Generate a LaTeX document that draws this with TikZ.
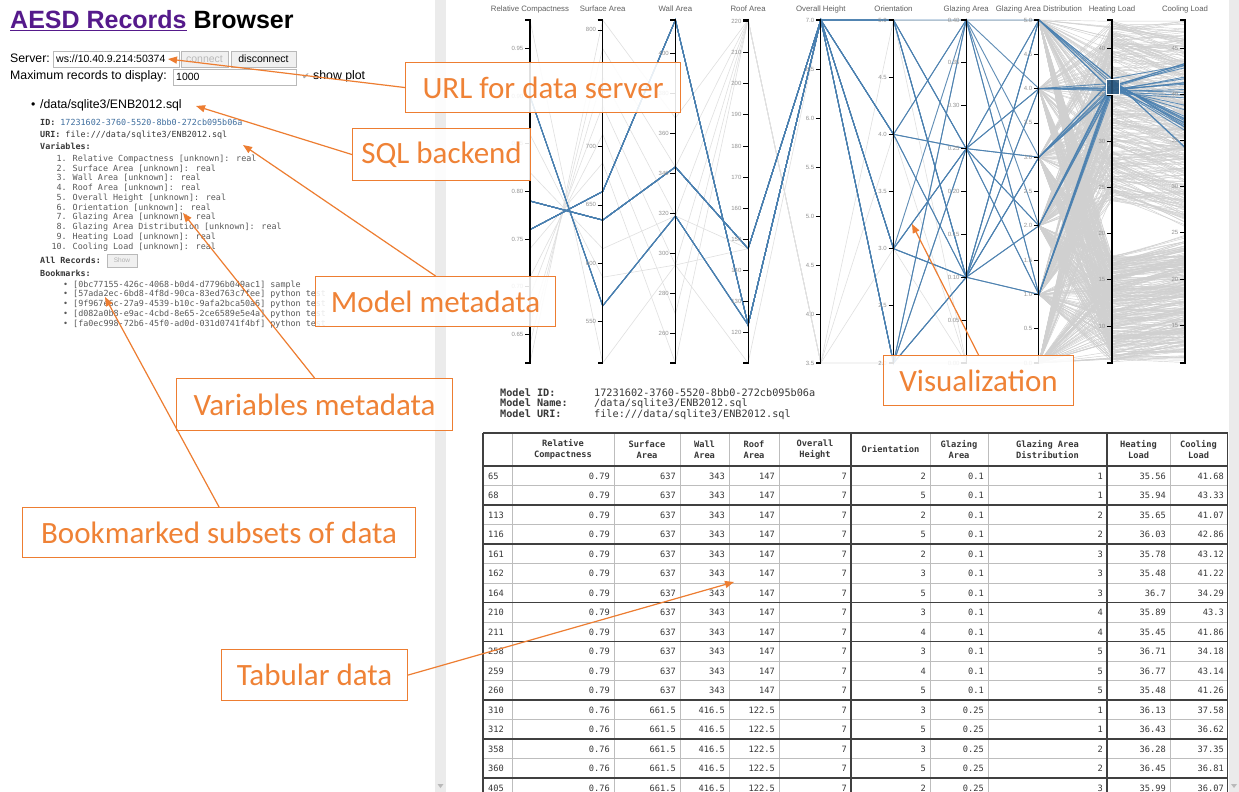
\documentclass[tikz,border=0pt]{standalone}
\usepackage{fontspec}
\setmainfont{Liberation Sans}
\newfontfamily\callfont{Carlito}
\newfontfamily\codefont{DejaVu Sans Mono}
\newfontfamily\symfont{DejaVu Sans}
\usetikzlibrary{arrows.meta}
\newcommand{\fsz}[1]{\fontsize{#1}{#1}\selectfont}
\definecolor{orangeline}{HTML}{ED7D31}
\definecolor{orangetext}{HTML}{EF8236}
\definecolor{linkpurple}{HTML}{551A8B}
\definecolor{selblue}{HTML}{4A80B0}
\definecolor{densegrey}{HTML}{D0D0D0}
\definecolor{faintgrey}{HTML}{E0E0E0}
\definecolor{barGrey}{HTML}{EBEBEB}
\definecolor{rulegrey}{HTML}{BDBDBD}
\definecolor{inkgrey}{HTML}{383838}
\definecolor{idblue}{HTML}{3F6E9E}
\definecolor{brushfill}{HTML}{2C587E}

% x positions of the ten parallel axes
\def\xA{530}\def\xB{602.7}\def\xC{675.4}\def\xD{748.1}\def\xE{820.8}
\def\xF{893.5}\def\xG{966.2}\def\xH{1038.9}\def\xI{1112}\def\xJ{1185}

% one axis of the parallel-coordinates plot: id, x, scale function, ticks
\newcommand{\paxis}[4]{%
  \draw[axisline] ({#2-5},20) -- (#2,20) -- (#2,363) -- ({#2-5},363);
  \foreach \tkv/\tkl [count=\tkn] in {#4}{%
    \draw[tickline] ({#2-5},{#3(\tkv)}) -- (#2,{#3(\tkv)});
    \node[ticklab] (tk#1\tkn) at ({#2-6.5},{#3(\tkv)}) {\tkl};
  }%
}

\begin{document}
\begin{tikzpicture}[x=1pt,y=-1pt,
  declare function={
    yRC(\v)=20+(0.98-\v)*952.78;
    ySA(\v)=20+(808.5-\v)*1.16667;
    yWA(\v)=20+(416.5-\v)*2;
    yRA(\v)=20+(220.5-\v)*3.1111;
    yOH(\v)=20+(7-\v)*98;
    yOR(\v)=20+(5-\v)*114.333;
    yGA(\v)=20+(0.4-\v)*857.5;
    yGD(\v)=20+(5-\v)*68.6;
    yHL(\v)=20+(43.1-\v)*9.248;
    yCL(\v)=20+(48.03-\v)*9.238;
  },
  axisline/.style={draw=black, line width=1.1pt},
  tickline/.style={draw=black, line width=0.8pt},
  ticklab/.style={anchor=east, inner sep=0pt, font=\fsz{6}, text=gray!85},
  ptitle/.style={inner sep=0pt, font=\fsz{7.8}, text=gray!75!black},
  faintline/.style={draw=faintgrey, line width=0.6pt},
  denseline/.style={draw=densegrey, line width=0.45pt},
  selline/.style={draw=selblue, line width=0.9pt, draw opacity=0.85},
  ui/.style={anchor=base west, inner sep=0pt, font=\fsz{12.3}},
  codetxt/.style={anchor=base west, inner sep=0pt, font=\codefont\fsz{8.4}, text=inkgrey},
  codebig/.style={anchor=base west, inner sep=0pt, font=\codefont\fsz{10.2}, text=inkgrey},
  fieldbox/.style={draw=gray!55, fill=white, line width=0.6pt},
  btnbox/.style={draw=gray!55, fill=gray!12, line width=0.6pt},
  headcell/.style={align=center, inner sep=0pt, font=\codefont\bfseries\fontsize{8.7}{11}\selectfont, text=inkgrey},
  cellnum/.style={anchor=east, inner sep=0pt, font=\codefont\fsz{8.7}, text=inkgrey},
  thinrule/.style={draw=rulegrey, line width=0.6pt},
  darkrule/.style={draw=black!75, line width=1.2pt},
  calloutbox/.style={draw=orangeline, line width=1.1pt, fill=white, fill opacity=0.88,
    text opacity=1, text=orangetext, font=\callfont\fsz{31}, inner sep=0pt, anchor=north west},
  callarrow/.style={draw=orangeline, line width=1.2pt, -{Triangle[length=9pt,width=7pt]}}
]
\useasboundingbox (0,0) rectangle (1239,792);
\fill[white] (0,0) rectangle (1239,792);

% ---------------- parallel coordinates: background records
\foreach \vA/\vB/\vC/\vD/\vE in {0.98/514.5/294/110.25/7, 0.90/563.5/318.5/122.5/7,
  0.86/588/294/147/7, 0.82/612.5/318.5/147/7, 0.79/637/343/147/7, 0.76/661.5/416.5/122.5/7,
  0.74/686/245/220.5/3.5, 0.71/710.5/269.5/220.5/3.5, 0.69/735/294/220.5/3.5,
  0.66/759.5/318.5/220.5/3.5, 0.64/784/343/220.5/3.5, 0.62/808.5/367.5/220.5/3.5}{
  \draw[faintline] (\xA,{yRC(\vA)}) -- (\xB,{ySA(\vB)}) -- (\xC,{yWA(\vC)})
    -- (\xD,{yRA(\vD)}) -- (\xE,{yOH(\vE)});
}
\foreach \hh in {7,3.5}{\foreach \oo in {2,3,4,5}{
  \draw[faintline] (\xE,{yOH(\hh)}) -- (\xF,{yOR(\oo)});}}
\foreach \oo in {2,3,4,5}{\foreach \gg in {0,0.1,0.25,0.4}{
  \draw[faintline] (\xF,{yOR(\oo)}) -- (\xG,{yGA(\gg)});}}
\draw[faintline] (\xG,{yGA(0)}) -- (\xH,{yGD(0)});
\foreach \gg in {0.1,0.25,0.4}{\foreach \dd in {1,...,5}{
  \draw[faintline] (\xG,{yGA(\gg)}) -- (\xH,{yGD(\dd)});}}

% loads: dense bundle of records
\pgfmathsetseed{4217}
\foreach \k in {1,...,650}{
  \pgfmathsetmacro\rA{rnd}
  \pgfmathsetmacro\pgd{random(0,5)}
  \pgfmathsetmacro\phl{\rA<0.5 ? 6.1+rnd*11.5 : 23.5+rnd*19.5}
  \pgfmathsetmacro\pcl{\rA<0.5 ? \phl+4.5+rnd*3 : min(47.9,\phl+0.5+rnd*6)}
  \draw[denseline] (\xH,{yGD(\pgd)}) -- (\xI,{yHL(\phl)}) -- (\xJ,{yCL(\pcl)});
}

% selected records
\foreach \vA/\vB/\vC/\vD/\vE/\vF/\vG/\vH/\vI/\vJ in {
  0.79/637/343/147/7/2/0.1/1/35.56/41.68, 0.79/637/343/147/7/5/0.1/1/35.94/43.33,
  0.79/637/343/147/7/2/0.1/2/35.65/41.07, 0.79/637/343/147/7/5/0.1/2/36.03/42.86,
  0.79/637/343/147/7/2/0.1/3/35.78/43.12, 0.79/637/343/147/7/3/0.1/3/35.48/41.22,
  0.79/637/343/147/7/5/0.1/3/36.7/34.29, 0.79/637/343/147/7/3/0.1/4/35.89/43.3,
  0.79/637/343/147/7/4/0.1/4/35.45/41.86, 0.79/637/343/147/7/3/0.1/5/36.71/34.18,
  0.79/637/343/147/7/4/0.1/5/36.77/43.14, 0.79/637/343/147/7/5/0.1/5/35.48/41.26,
  0.76/661.5/416.5/122.5/7/3/0.25/1/36.13/37.58, 0.76/661.5/416.5/122.5/7/5/0.25/1/36.43/36.62,
  0.76/661.5/416.5/122.5/7/3/0.25/2/36.28/37.35, 0.76/661.5/416.5/122.5/7/5/0.25/2/36.45/36.81,
  0.76/661.5/416.5/122.5/7/2/0.25/3/35.99/36.07, 0.76/661.5/416.5/122.5/7/4/0.25/3/36.59/36.44,
  0.76/661.5/416.5/122.5/7/3/0.25/4/36.24/37.26, 0.76/661.5/416.5/122.5/7/5/0.25/4/35.71/36.93,
  0.76/661.5/416.5/122.5/7/2/0.25/5/36.36/37.11, 0.76/661.5/416.5/122.5/7/4/0.25/5/36.06/36.39,
  0.90/563.5/318.5/122.5/7/2/0.4/1/35.2/39.6, 0.90/563.5/318.5/122.5/7/4/0.4/2/35.5/40.2,
  0.90/563.5/318.5/122.5/7/3/0.4/3/35.3/39.9, 0.90/563.5/318.5/122.5/7/5/0.4/4/35.6/38.8,
  0.90/563.5/318.5/122.5/7/2/0.4/5/35.4/40.5, 0.90/563.5/318.5/122.5/7/4/0.4/1/35.7/38.3}{
  \draw[selline] (\xA,{yRC(\vA)}) -- (\xB,{ySA(\vB)}) -- (\xC,{yWA(\vC)}) -- (\xD,{yRA(\vD)})
    -- (\xE,{yOH(\vE)}) -- (\xF,{yOR(\vF)}) -- (\xG,{yGA(\vG)}) -- (\xH,{yGD(\vH)})
    -- (\xI,{yHL(\vI)}) -- (\xJ,{yCL(\vJ)});
}

% axes
\paxis{rc}{\xA}{yRC}{0.95/0.95,0.90/0.90,0.85/0.85,0.80/0.80,0.75/0.75,0.70/0.70,0.65/0.65}
\paxis{sa}{\xB}{ySA}{800/800,750/750,700/700,650/650,600/600,550/550}
\paxis{wa}{\xC}{yWA}{400/400,380/380,360/360,340/340,320/320,300/300,280/280,260/260}
\paxis{ra}{\xD}{yRA}{220/220,210/210,200/200,190/190,180/180,170/170,160/160,150/150,140/140,130/130,120/120}
\paxis{oh}{\xE}{yOH}{7/7.0,6.5/6.5,6/6.0,5.5/5.5,5/5.0,4.5/4.5,4/4.0,3.5/3.5}
\paxis{or}{\xF}{yOR}{5/5.0,4.5/4.5,4/4.0,3.5/3.5,3/3.0,2.5/2.5,2/2.0}
\paxis{ga}{\xG}{yGA}{0.4/0.40,0.35/0.35,0.3/0.30,0.25/0.25,0.2/0.20,0.15/0.15,0.1/0.10,0.05/0.05,0/0.00}
\paxis{gd}{\xH}{yGD}{5/5.0,4.5/4.5,4/4.0,3.5/3.5,3/3.0,2.5/2.5,2/2.0,1.5/1.5,1/1.0,0.5/0.5,0/0.0}
\paxis{hl}{\xI}{yHL}{40/40,35/35,30/30,25/25,20/20,15/15,10/10}
\paxis{cl}{\xJ}{yCL}{45/45,40/40,35/35,30/30,25/25,20/20,15/15}

\node[ptitle] (tRC) at (\xA,9) {Relative Compactness};
\node[ptitle] (tSA) at (\xB,9) {Surface Area};
\node[ptitle] (tWA) at (\xC,9) {Wall Area};
\node[ptitle] (tRA) at (\xD,9) {Roof Area};
\node[ptitle] (tOH) at (\xE,9) {Overall Height};
\node[ptitle] (tOR) at (\xF,9) {Orientation};
\node[ptitle] (tGA) at (\xG,9) {Glazing Area};
\node[ptitle] (tGD) at (\xH,9) {Glazing Area Distribution};
\node[ptitle] (tHL) at (\xI,9) {Heating Load};
\node[ptitle] (tCL) at (\xJ,9) {Cooling Load};

% brush on the heating load axis
\filldraw[fill=brushfill, fill opacity=0.85, draw=white, line width=0.6pt] (1106,79) rectangle (1119,94);

% ---------------- left panel
\node[anchor=base west, inner sep=0pt, font=\bfseries\fsz{25}] (title) at (10,29)
  {{\color{linkpurple}\underline{AESD Records}} Browser};

\node[ui] (srvlab) at (10,63) {Server:};
\draw[fieldbox] (53,51) rectangle (179,67);
\node[ui, font=\fsz{10.5}] (srvval) at (56,63) {ws://10.40.9.214:50374};
\draw[btnbox] (181,51) rectangle (228,67);
\node[inner sep=0pt, font=\fsz{10.5}, text=gray!55] (btnc) at (204.5,59) {connect};
\draw[btnbox] (231,51) rectangle (296,67);
\node[inner sep=0pt, font=\fsz{10.5}] (btnd) at (263.5,59) {disconnect};

\node[ui] (maxlab) at (10,79) {Maximum records to display:};
\draw[fieldbox] (173,69) rectangle (296,85);
\node[ui, font=\fsz{10.5}] (maxval) at (176,81) {1000};
\node[ui, font=\symfont\fsz{9}, text=gray!70] (chk) at (302,79) {✔};
\node[ui] (showplot) at (313,79) {show plot};

\node[ui] (bul) at (31,108) {•};
\node[ui] (dbpath) at (40,108) {/data/sqlite3/ENB2012.sql};

\node[codetxt] (idline) at (40,125) {\textbf{ID:} {\color{idblue}17231602-3760-5520-8bb0-272cb095b06a}};
\node[codetxt] (uriline) at (40,137) {\textbf{URI:} file:///data/sqlite3/ENB2012.sql};
\node[codetxt] (varhead) at (40,149) {\textbf{Variables:}};
\foreach \vtxt [count=\vn] in {{Relative Compactness [unknown]: real},{Surface Area [unknown]: real},
  {Wall Area [unknown]: real},{Roof Area [unknown]: real},{Overall Height [unknown]: real},
  {Orientation [unknown]: real},{Glazing Area [unknown]: real},
  {Glazing Area Distribution [unknown]: real},{Heating Load [unknown]: real},
  {Cooling Load [unknown]: real}}{
  \pgfmathsetmacro\vy{161.3+9.77*(\vn-1)}
  \node[codetxt, anchor=base east, text=gray!70!black] (vnum\vn) at (67,\vy) {\vn.};
  \node[codetxt, text=gray!70!black] (vtxt\vn) at (72.5,\vy) {\vtxt};
}
\node[codetxt] (allrec) at (40,263) {\textbf{All Records:}};
\draw[btnbox] (107,254) rectangle (137,267);
\node[inner sep=0pt, font=\fsz{6.5}, text=gray!60] (showbtn) at (122,260.5) {Show};
\node[codetxt] (bmhead) at (40,276) {\textbf{Bookmarks:}};
\foreach \btxt [count=\bn] in {{[0bc77155-426c-4068-b0d4-d7796b049ac1] sample},
  {[57ada2ec-6bd8-4f8d-90ca-83ed763c7fee] python test},
  {[9f967e6c-27a9-4539-b10c-9afa2bca50a6] python test},
  {[d082a0b8-e9ac-4cbd-8e65-2ce6589e5e4a] python test},
  {[fa0ec998-72b6-45f0-ad0d-031d0741f4bf] python test}}{
  \pgfmathsetmacro\by{287+9.8*(\bn-1)}
  \node[codetxt, text=gray!70!black] (bbul\bn) at (63,\by) {•};
  \node[codetxt, text=gray!70!black] (bm\bn) at (73,\by) {\btxt};
}

% ---------------- model summary
\node[codebig] (midl) at (500,396) {\bfseries Model ID:};
\node[codebig] (mnml) at (500,406.5) {\bfseries Model Name:};
\node[codebig] (murl) at (500,417) {\bfseries Model URI:};
\node[codebig] (midv) at (594,396) {17231602-3760-5520-8bb0-272cb095b06a};
\node[codebig] (mnmv) at (594,406.5) {/data/sqlite3/ENB2012.sql};
\node[codebig] (murv) at (594,417) {file:///data/sqlite3/ENB2012.sql};

% ---------------- data table
\begin{scope}
\clip (480,430) rectangle (1228,792);
\foreach \yy in {485.5,524.5,563.5,583,622,661,680.5,719.5,758.5}{
  \draw[thinrule] (483,\yy) -- (1228,\yy);}
\foreach \xx in {512,614,680,729,779,930,988,1170}{
  \draw[thinrule] (\xx,433) -- (\xx,800);}
\foreach \yy in {433,466,505,544,602.5,641.5,700,739,778}{
  \draw[darkrule] (483,\yy) -- (1228,\yy);}
\foreach \xx in {483,851,1107,1227.5}{
  \draw[darkrule] (\xx,433) -- (\xx,800);}

\node[headcell] (hRC) at (563,449.5) {Relative\\Compactness};
\node[headcell] (hSA) at (647,449.5) {Surface\\Area};
\node[headcell] (hWA) at (704.5,449.5) {Wall\\Area};
\node[headcell] (hRA) at (754,449.5) {Roof\\Area};
\node[headcell] (hOH) at (815,449.5) {Overall\\Height};
\node[headcell] (hOR) at (890.5,449.5) {Orientation};
\node[headcell] (hGA) at (959,449.5) {Glazing\\Area};
\node[headcell] (hGD) at (1047.5,449.5) {Glazing Area\\Distribution};
\node[headcell] (hHL) at (1138.5,449.5) {Heating\\Load};
\node[headcell] (hCL) at (1198.5,449.5) {Cooling\\Load};

\foreach \rl/\vA/\vB/\vC/\vD/\vE/\vF/\vG/\vH/\vI/\vJ [count=\rn] in {
  65/0.79/637/343/147/7/2/0.1/1/35.56/41.68, 68/0.79/637/343/147/7/5/0.1/1/35.94/43.33,
  113/0.79/637/343/147/7/2/0.1/2/35.65/41.07, 116/0.79/637/343/147/7/5/0.1/2/36.03/42.86,
  161/0.79/637/343/147/7/2/0.1/3/35.78/43.12, 162/0.79/637/343/147/7/3/0.1/3/35.48/41.22,
  164/0.79/637/343/147/7/5/0.1/3/36.7/34.29, 210/0.79/637/343/147/7/3/0.1/4/35.89/43.3,
  211/0.79/637/343/147/7/4/0.1/4/35.45/41.86, 258/0.79/637/343/147/7/3/0.1/5/36.71/34.18,
  259/0.79/637/343/147/7/4/0.1/5/36.77/43.14, 260/0.79/637/343/147/7/5/0.1/5/35.48/41.26,
  310/0.76/661.5/416.5/122.5/7/3/0.25/1/36.13/37.58, 312/0.76/661.5/416.5/122.5/7/5/0.25/1/36.43/36.62,
  358/0.76/661.5/416.5/122.5/7/3/0.25/2/36.28/37.35, 360/0.76/661.5/416.5/122.5/7/5/0.25/2/36.45/36.81,
  405/0.76/661.5/416.5/122.5/7/2/0.25/3/35.99/36.07}{
  \pgfmathsetmacro\ry{466+19.5*(\rn-1)+10}
  \node[cellnum, anchor=west] (c\rn x0) at (488,\ry) {\rl};
  \node[cellnum] (c\rn x1) at (610,\ry) {\vA};
  \node[cellnum] (c\rn x2) at (676,\ry) {\vB};
  \node[cellnum] (c\rn x3) at (725,\ry) {\vC};
  \node[cellnum] (c\rn x4) at (775,\ry) {\vD};
  \node[cellnum] (c\rn x5) at (847,\ry) {\vE};
  \node[cellnum] (c\rn x6) at (926,\ry) {\vF};
  \node[cellnum] (c\rn x7) at (984,\ry) {\vG};
  \node[cellnum] (c\rn x8) at (1103,\ry) {\vH};
  \node[cellnum] (c\rn x9) at (1166,\ry) {\vI};
  \node[cellnum] (c\rn x10) at (1224,\ry) {\vJ};
}
\end{scope}

% ---------------- scroll bars
\fill[barGrey] (435,0) rectangle (446,792);
\fill[gray!55] (437.5,784) -- (443.5,784) -- (440.5,788) -- cycle;
\fill[barGrey] (1229,0) rectangle (1239,792);
\fill[gray!55] (1231,784) -- (1237,784) -- (1234,788) -- cycle;

% ---------------- callouts
\node[calloutbox, minimum width=275pt, minimum height=50pt] (url) at (405,62) {URL for data server};
\node[calloutbox, minimum width=178pt, minimum height=52pt] (sql) at (352,128) {SQL backend};
\node[calloutbox, minimum width=240pt, minimum height=50pt] (model) at (315,276) {Model metadata};
\node[calloutbox, minimum width=276pt, minimum height=52pt] (vars) at (176,378) {Variables metadata};
\node[calloutbox, minimum width=393pt, minimum height=50pt] (book) at (22,507) {Bookmarked subsets of data};
\node[calloutbox, minimum width=186pt, minimum height=51pt] (tab) at (221,649) {Tabular data};
\node[calloutbox, minimum width=190pt, minimum height=50pt] (vis) at (883,355) {Visualization};

\coordinate (tUrl) at (168,59);
\coordinate (tSql) at (196,106);
\coordinate (tModel) at (243,145);
\coordinate (tVars) at (183,213);
\coordinate (tBook) at (105,297);
\coordinate (tTab) at (734,582);
\coordinate (tVis) at (912,224);

\draw[callarrow] (url.west) -- (tUrl);
\draw[callarrow] (sql.west) -- (tSql);
\draw[callarrow] (model.north) -- (tModel);
\draw[callarrow] (vars.north) -- (tVars);
\draw[callarrow] (book.north) -- (tBook);
\draw[callarrow] (tab.east) -- (tTab);
\draw[callarrow] (vis.north) -- (tVis);
\end{tikzpicture}
\end{document}
